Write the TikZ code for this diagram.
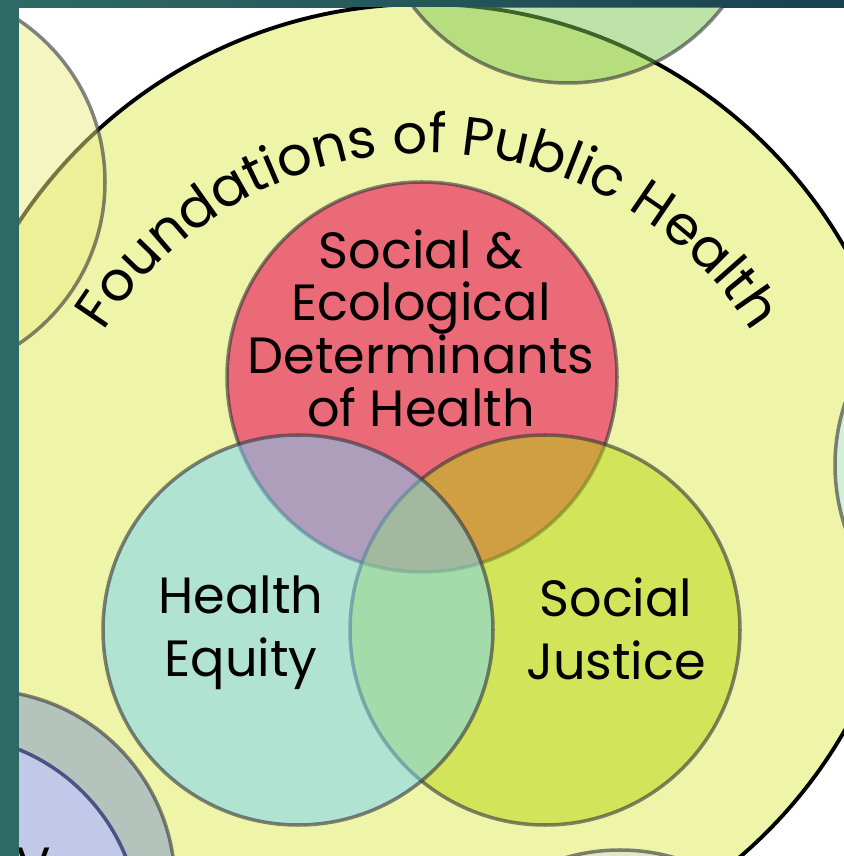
\documentclass[tikz,border=0pt]{standalone}
\usepackage{fontspec}
\setmainfont{Poppins}
\usetikzlibrary{decorations.text}

\definecolor{bgteal}{HTML}{2E6B65}
\definecolor{bgdark}{HTML}{1A4152}
\definecolor{fphyellow}{HTML}{EFF5A8}
\definecolor{sedhred}{HTML}{EB6A78}
\definecolor{equityteal}{RGB}{117,211,254}
\definecolor{justicelime}{RGB}{183,213,12}
\definecolor{ringline}{RGB}{52,50,55}
\definecolor{topgreen}{RGB}{127,201,85}
\definecolor{leftyellow}{RGB}{237,237,133}
\definecolor{rightmint}{HTML}{D5EEDC}
\definecolor{lowpale}{HTML}{E2E8C6}
\definecolor{lowgrey}{HTML}{B5C3BD}
\definecolor{lowblue}{HTML}{C2C8E8}
\definecolor{lowblueline}{HTML}{4B5385}

\tikzset{
  ring/.style={draw=ringline, draw opacity=0.6, line width=2pt},
  venntext/.style={font=\fontsize{29}{30}\selectfont, align=center, inner sep=0pt},
}

\begin{document}
\begin{tikzpicture}[x=0.02cm,y=0.02cm]
\useasboundingbox (0,0) rectangle (844,856);
\shade[left color=bgteal, right color=bgdark] (0,0) rectangle (844,856);

\coordinate (fph) at (424,367);
\coordinate (arcc) at (428,320);
\coordinate (sedh) at (422,479);
\coordinate (equity) at (298,226);
\coordinate (justice) at (545,226);
\coordinate (topc) at (568,968);
\coordinate (leftc) at (-90,674);
\coordinate (rightc) at (1030,391);
\coordinate (lowc) at (620,-189);
\coordinate (greyc) at (-20,-29);
\coordinate (bluec) at (-55,-74);

\begin{scope}
\clip (19,0) rectangle (844,848);
\fill[white] (19,0) rectangle (844,848);
% big circle
\fill[fphyellow] (fph) circle (485);
\draw[black, line width=2.2pt] (fph) circle (485);
% neighbours, only partly seen
\filldraw[ring, fill=topgreen, fill opacity=0.5] (topc) circle (195);
\filldraw[ring, fill=leftyellow, fill opacity=0.5] (leftc) circle (195);
\filldraw[ring, fill=rightmint] (rightc) circle (195);
\filldraw[ring, fill=lowpale] (lowc) circle (195);
\filldraw[ring, fill=lowgrey] (greyc) circle (195);
\filldraw[draw=lowblueline, line width=2pt, fill=lowblue] (bluec) circle (195);
\node[venntext, anchor=north west] (vfrag) at (16,8) {V};
% the three circles
\filldraw[ring, fill=sedhred] (sedh) circle (195);
\filldraw[ring, fill=justicelime, fill opacity=0.5] (justice) circle (195);
\filldraw[ring, fill=equityteal, fill opacity=0.5] (equity) circle (195);
\end{scope}

\path[decorate, decoration={text along path, text align=center,
  text={|\fontsize{31}{31}\selectfont|Foundations of Public Health}}]
  ([shift={(170:383)}]arcc) arc (170:10:383);

\node[venntext] (sedhtext) at (421,528) {Social \&\\Ecological\\Determinants\\of Health};
\node[venntext, font=\fontsize{29}{36}\selectfont] (equitytext) at (241,223) {Health\\Equity};
\node[venntext, font=\fontsize{29}{36}\selectfont] (justicetext) at (616,227) {Social\\Justice};
\end{tikzpicture}
\end{document}
